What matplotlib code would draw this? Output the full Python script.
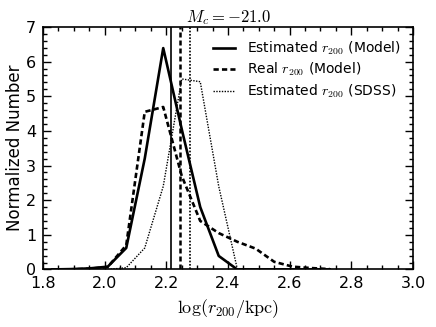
import matplotlib
matplotlib.use('Agg')
import matplotlib.pyplot as plt
from matplotlib.ticker import MultipleLocator

plt.rcParams['mathtext.fontset'] = 'cm'

# centros de los bins en log(r200/kpc)
bins = [1.83, 1.89, 1.95, 2.01, 2.07, 2.13, 2.19, 2.25, 2.31, 2.37, 2.43,
        2.49, 2.55, 2.61, 2.67, 2.73]

est_model = [0.0, 0.01, 0.03, 0.08, 0.62, 3.2, 6.39, 4.05, 1.8, 0.39, 0.0,
             0.0, 0.0, 0.0, 0.0, 0.0]
real_model = [0.0, 0.0, 0.02, 0.07, 0.7, 4.55, 4.69, 2.7, 1.4, 1.05, 0.8,
              0.6, 0.22, 0.08, 0.04, 0.01]
est_sdss = [0.0, 0.0, 0.0, 0.0, 0.05, 0.62, 2.4, 5.5, 5.42, 2.4, 0.02,
            0.0, 0.0, 0.0, 0.0, 0.0]

# medianas de cada distribucion
med_est_model = 2.214
med_real_model = 2.245
med_est_sdss = 2.278

fig = plt.figure(figsize=(4.36, 3.27), dpi=100)
ax = fig.add_axes([0.0986, 0.176, 0.8486, 0.7415])

ax.plot(bins, est_model, color='black', lw=1.9, label=r'Estimated $r_{200}$ (Model)')
ax.plot(bins, real_model, color='black', lw=1.9, linestyle=(0, (2, 1.2)),
        label=r'Real $r_{200}$ (Model)')
ax.plot(bins, est_sdss, color='black', lw=1.0, linestyle=(0, (1, 1)),
        label=r'Estimated $r_{200}$ (SDSS)')

ax.axvline(med_est_model, color='black', lw=1.2)
ax.axvline(med_real_model, color='black', lw=1.8, linestyle=(0, (2, 1.2)))
ax.axvline(med_est_sdss, color='black', lw=1.2, linestyle=(0, (1, 1)))

ax.set_xlim(1.8, 3.0)
ax.set_ylim(0, 7)
ax.xaxis.set_major_locator(MultipleLocator(0.2))
ax.xaxis.set_minor_locator(MultipleLocator(0.05))
ax.yaxis.set_major_locator(MultipleLocator(1))
ax.yaxis.set_minor_locator(MultipleLocator(0.2))
ax.tick_params(which='both', direction='in', top=True, right=True, labelsize=11.5)
ax.tick_params(which='major', length=6, width=1, pad=5)
ax.tick_params(which='minor', length=3, width=1)
for s in ax.spines.values():
    s.set_linewidth(1.2)

ax.set_xlabel(r'$\log(r_{200}/{\rm kpc})$', fontsize=13, labelpad=4)
ax.set_ylabel('Normalized Number', fontsize=12, labelpad=1)
ax.set_title(r'$M_c = -21.0$', fontsize=12, pad=3)

ax.legend(loc='upper right', frameon=False, fontsize=10, handlelength=1.6,
          labelspacing=0.3, borderaxespad=0.5)

fig.savefig('out.png', dpi=100)
